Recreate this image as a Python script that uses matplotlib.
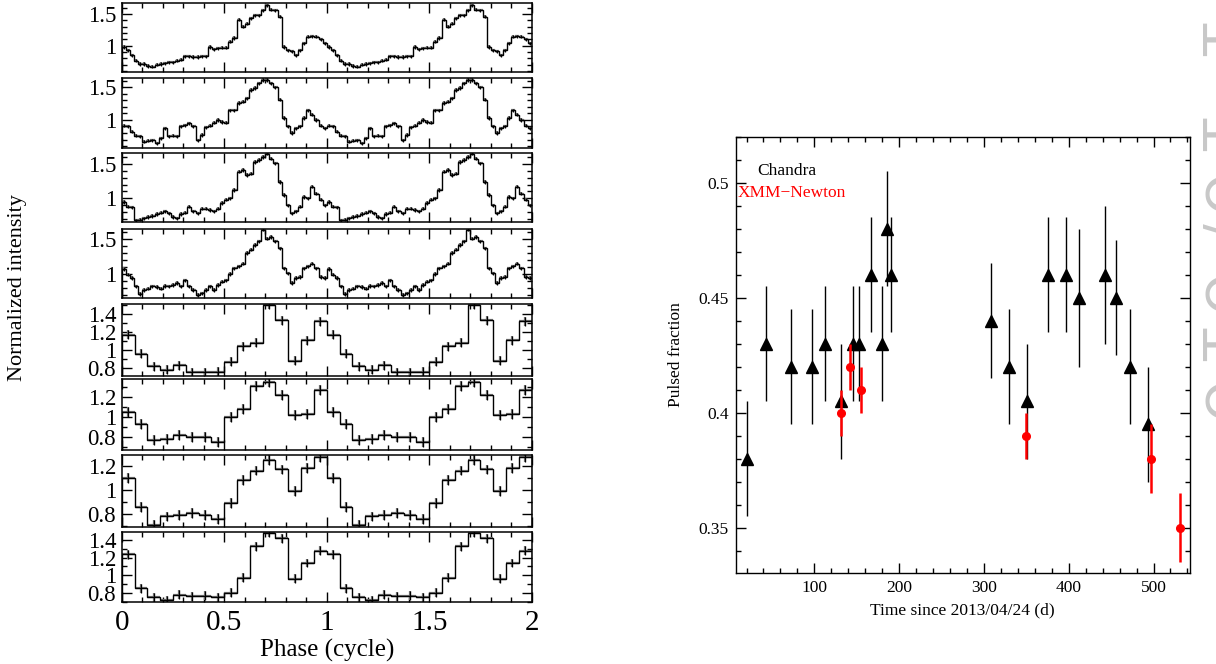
import numpy as np
import matplotlib
matplotlib.use("Agg")
import matplotlib.pyplot as plt
from matplotlib.ticker import MultipleLocator, FuncFormatter

plt.rcParams['font.family'] = ['Liberation Serif', 'DejaVu Serif']
plt.rcParams['mathtext.fontset'] = 'stix'

# ---------------- data: pulse profiles (one cycle, shown twice) ----------------
profile_1 = [0.98, 0.93, 0.85, 0.76, 0.71, 0.71, 0.68, 0.67, 0.70, 0.71,
             0.72, 0.74, 0.74, 0.76, 0.78, 0.83, 0.83, 0.82, 0.82, 0.83,
             0.83, 0.98, 0.94, 0.96, 0.97, 0.97, 1.06, 1.12, 1.41, 1.30,
             1.35, 1.43, 1.48, 1.48, 1.56, 1.64, 1.57, 1.56, 1.46, 0.98,
             0.93, 0.91, 0.85, 0.93, 1.04, 1.14, 1.15, 1.14, 1.10, 1.04]
profile_2 = [0.91, 0.90, 0.82, 0.76, 0.75, 0.67, 0.68, 0.69, 0.64, 0.72,
             0.87, 0.75, 0.76, 0.75, 0.90, 0.92, 0.95, 0.90, 0.69, 0.77,
             0.89, 0.91, 0.96, 1.00, 0.97, 0.96, 1.15, 1.15, 1.26, 1.28,
             1.33, 1.46, 1.49, 1.56, 1.61, 1.61, 1.56, 1.50, 1.31, 1.03,
             0.90, 0.80, 0.87, 0.90, 1.03, 1.15, 1.08, 1.00, 0.91, 0.87]
profile_3 = [0.95, 0.88, 0.87, 0.68, 0.69, 0.71, 0.73, 0.74, 0.77, 0.79,
             0.81, 0.78, 0.73, 0.71, 0.77, 0.79, 0.88, 0.81, 0.78, 0.85,
             0.85, 0.83, 0.81, 0.85, 0.93, 0.98, 1.00, 1.12, 1.39, 1.41,
             1.34, 1.36, 1.53, 1.56, 1.60, 1.65, 1.58, 1.51, 1.24, 1.05,
             0.90, 0.78, 0.81, 0.88, 1.02, 1.00, 1.17, 1.07, 0.98, 0.90]
profile_4 = [1.07, 0.99, 0.94, 0.82, 0.71, 0.77, 0.79, 0.82, 0.81, 0.79,
             0.83, 0.82, 0.84, 0.87, 0.82, 0.91, 0.82, 0.77, 0.70, 0.72,
             0.77, 0.82, 0.77, 0.84, 0.89, 0.91, 1.00, 1.08, 1.11, 1.15,
             1.30, 1.35, 1.42, 1.47, 1.64, 1.51, 1.53, 1.47, 1.37, 1.08,
             1.01, 0.87, 0.94, 0.96, 1.08, 1.11, 1.15, 1.08, 0.96, 0.94]
profile_5 = [1.17, 0.96, 0.82, 0.78, 0.83, 0.75, 0.75, 0.76,
             0.87, 1.04, 1.08, 1.50, 1.33, 0.88, 1.11, 1.32]
profile_6 = [1.05, 0.93, 0.77, 0.78, 0.82, 0.80, 0.80, 0.75,
             1.00, 1.08, 1.31, 1.35, 1.22, 1.02, 1.03, 1.27]
profile_7 = [1.10, 0.86, 0.71, 0.78, 0.79, 0.81, 0.79, 0.76,
             0.89, 1.08, 1.16, 1.25, 1.17, 0.99, 1.18, 1.27]
profile_8 = [1.24, 0.85, 0.75, 0.72, 0.78, 0.76, 0.77, 0.75,
             0.80, 0.97, 1.33, 1.48, 1.42, 0.96, 1.14, 1.28]

profiles = [profile_1, profile_2, profile_3, profile_4,
            profile_5, profile_6, profile_7, profile_8]
profile_errors = [0.025, 0.025, 0.025, 0.025, 0.05, 0.05, 0.04, 0.05]
profile_ylims = [(0.589, 1.669), (0.566, 1.638), (0.66, 1.656), (0.65, 1.644),
                 (0.71, 1.51), (0.667, 1.377), (0.694, 1.29), (0.70, 1.494)]
profile_major = [0.5, 0.5, 0.5, 0.5, 0.2, 0.2, 0.2, 0.2]
phase_ticks = [0, 0.5, 1, 1.5, 2]

# ---------------- data: pulsed fraction ----------------
chandra_t = [20, 43, 72, 97, 112, 131, 146, 153, 167, 180, 185.5, 190.5,
             308, 330, 351, 375, 397, 412, 443, 456, 472, 493]
chandra_pf = [0.38, 0.43, 0.42, 0.42, 0.43, 0.405, 0.43, 0.43, 0.46, 0.43, 0.48, 0.46,
              0.44, 0.42, 0.405, 0.46, 0.46, 0.45, 0.46, 0.45, 0.42, 0.395]
chandra_err = [0.025, 0.025, 0.025, 0.025, 0.025, 0.025, 0.025, 0.025, 0.025, 0.025, 0.025, 0.025,
               0.025, 0.025, 0.025, 0.025, 0.025, 0.03, 0.03, 0.025, 0.025, 0.025]
xmm_t = [131, 142, 155, 350, 497, 531]
xmm_pf = [0.40, 0.42, 0.41, 0.39, 0.38, 0.35]
xmm_err = [0.01, 0.01, 0.01, 0.01, 0.015, 0.015]

# faint stamp glyphs at right edge (mostly cut off in the reference)
stamp_chars = ['T', 'T', 'O', '/', 'O', 'T', 'O']

# ---------------- figure ----------------
W, H = 1216, 664
fig = plt.figure(figsize=(W / 100, H / 100), dpi=100)

# panel pixel extents (top, bottom)
panel_px = [(3.3, 71.7), (78.3, 148.3), (153.3, 221.7), (229.3, 298.3),
            (304, 376), (379, 450), (455, 526.7), (531.7, 601.7)]
x0_px, x1_px = 121.7, 531.7

fmt = FuncFormatter(lambda v, p: '%g' % round(v, 3))

for i, (prof, (top, bot)) in enumerate(zip(profiles, panel_px)):
    ax = fig.add_axes([x0_px / W, 1 - bot / H, (x1_px - x0_px) / W, (bot - top) / H])
    vals = np.array(prof + prof)
    edges = np.linspace(0, 2, len(vals) + 1)
    centers = 0.5 * (edges[:-1] + edges[1:])
    half = 0.5 * (edges[1] - edges[0])
    ax.errorbar(centers, vals, yerr=profile_errors[i], xerr=half, fmt='none',
                ecolor='#777777', elinewidth=1.6, capsize=0, zorder=2)
    ax.stairs(vals, edges, color='black', lw=1.0, zorder=3)
    ax.errorbar(centers, vals, yerr=profile_errors[i], fmt='none',
                ecolor='black', elinewidth=0.9, capsize=0, zorder=4)
    ax.set_xlim(0, 2)
    ax.set_ylim(*profile_ylims[i])
    ax.xaxis.set_major_locator(MultipleLocator(0.5))
    ax.xaxis.set_minor_locator(MultipleLocator(0.1))
    ax.yaxis.set_major_locator(MultipleLocator(profile_major[i]))
    ax.yaxis.set_minor_locator(MultipleLocator(0.1))
    ax.yaxis.set_major_formatter(fmt)
    ax.tick_params(which='both', direction='in', top=True, right=True,
                   width=1.0, labelsize=16.5, pad=4)
    ax.tick_params(which='major', length=7)
    ax.tick_params(which='minor', length=3.5)
    for s in ax.spines.values():
        s.set_linewidth(1.1)
    if i < 7:
        ax.tick_params(labelbottom=False)
    else:
        ax.set_xticks(phase_ticks)
        ax.xaxis.set_major_formatter(fmt)
        ax.tick_params(axis='x', labelsize=21, pad=6)
        ax.set_xlabel('Phase (cycle)', fontsize=18, labelpad=2)

fig.text(18 / W, 1 - 288 / H, 'Normalized intensity', rotation=90,
         ha='center', va='center', fontsize=16)

# ---------------- right panel ----------------
rl, rr, rt, rb = 735.5, 1190, 137, 573
axr = fig.add_axes([rl / W, 1 - rb / H, (rr - rl) / W, (rb - rt) / H])
axr.errorbar(chandra_t, chandra_pf, yerr=chandra_err, fmt='^', color='black',
             ms=8.5, elinewidth=1.0, capsize=0, zorder=3)
axr.errorbar(xmm_t, xmm_pf, yerr=xmm_err, fmt='o', color='red', mec='red',
             ms=5.5, elinewidth=1.8, capsize=0, zorder=4)
axr.set_xlim(7, 543)
axr.set_ylim(0.3304, 0.52)
axr.xaxis.set_major_locator(MultipleLocator(100))
axr.xaxis.set_minor_locator(MultipleLocator(20))
axr.yaxis.set_major_locator(MultipleLocator(0.05))
axr.yaxis.set_minor_locator(MultipleLocator(0.01))
axr.yaxis.set_major_formatter(fmt)
axr.tick_params(which='both', direction='in', top=True, right=True,
                width=1.0, labelsize=12.5, pad=5)
axr.tick_params(which='major', length=7)
axr.tick_params(which='minor', length=3.5)
for s in axr.spines.values():
    s.set_linewidth(1.0)
axr.set_xlabel('Time since 2013/04/24 (d)', fontsize=12.5, labelpad=5)
axr.set_ylabel('Pulsed fraction', fontsize=12.5, labelpad=10)
axr.text((757 - rl) / (rr - rl), 1 - (171 - rt) / (rb - rt), 'Chandra',
         transform=axr.transAxes, color='black', fontsize=12.5, ha='left', va='center')
axr.text((738 - rl) / (rr - rl), 1 - (193 - rt) / (rb - rt), 'XMM\u2212Newton',
         transform=axr.transAxes, color='red', fontsize=12.5, ha='left', va='center')

# faint stamp glyphs, rotated and cut by the right edge
stamp_y_px = [40, 135, 190, 232, 290, 345, 397]
for ch, yp in zip(stamp_chars, stamp_y_px):
    fig.text(1202 / W, 1 - yp / H, ch, rotation=90, color='#c8c8c8',
             fontsize=38, family='DejaVu Sans', ha='left', va='center')

fig.savefig('out.png', dpi=100)
